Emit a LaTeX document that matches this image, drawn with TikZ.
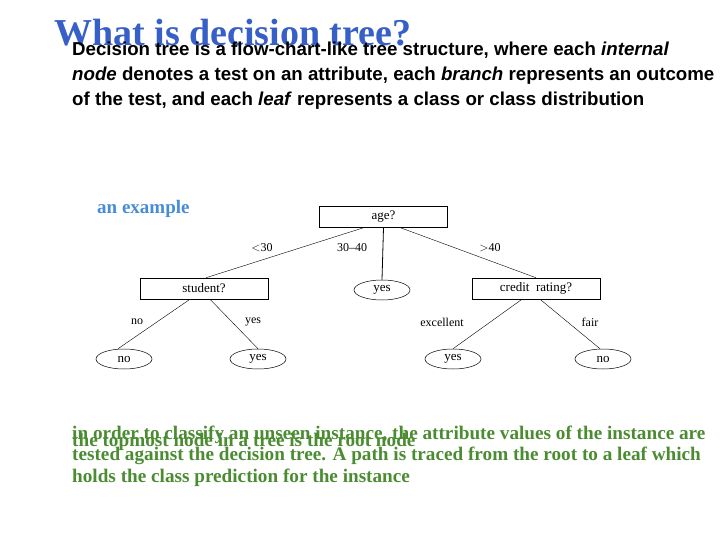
\documentclass[tikz,border=0pt]{standalone}
\usepackage{fontspec}
\usetikzlibrary{shapes.geometric}
\setmainfont{Liberation Serif}
\newfontfamily\arialf{Liberation Sans}
\definecolor{ttl}{RGB}{55,95,200}
\definecolor{exb}{RGB}{70,140,215}
\definecolor{grn}{RGB}{75,140,50}
\begin{document}
\begin{tikzpicture}[x=1pt,y=-1pt,
  bx/.style={draw,line width=0.5pt,minimum width=128pt,minimum height=21pt,inner sep=0pt,font=\fontsize{13}{14}\selectfont},
  el/.style={draw,ellipse,line width=0.5pt,minimum width=56pt,minimum height=20pt,inner sep=0pt,font=\fontsize{13}{14}\selectfont},
  lb/.style={font=\fontsize{12}{13}\selectfont,inner sep=0pt},
  ed/.style={line width=0.4pt},
  gt/.style={anchor=base west,inner sep=0pt,text=grn,font=\fontsize{19.2}{21.5}\selectfont\bfseries}]
\useasboundingbox (0,0) rectangle (720,540);
\node[anchor=base west,inner sep=0pt,text=ttl,font=\fontsize{38}{42}\selectfont\bfseries] (title) at (54,46) {What is decision tree?};
\node[anchor=base west,inner sep=0pt,align=left,font=\arialf\fontsize{18.7}{25}\selectfont\bfseries] (para) at (72,106) {Decision tree is a flow-chart-like tree structure, where each \textit{internal}\\\textit{node} denotes a test on an attribute, each \textit{branch} represents an outcome\\of the test, and each \textit{leaf} represents a class or class distribution};
\node[anchor=base west,inner sep=0pt,text=exb,font=\fontsize{19}{20}\selectfont\bfseries] (ex) at (97,214) {an example};
\node[bx] (age) at (383.5,217) {age?};
\node[bx] (stu) at (204,288.5) {student?};
\node[el] (y1) at (382,290) {yes};
\node[bx] (cr) at (536,288.5) {credit\ \ rating?};
\node[el] (n1) at (124,359) {no};
\node[el] (y2) at (258,359) {yes};
\node[el] (y3) at (453,359) {yes};
\node[el] (n2) at (603,359) {no};
\draw[ed] ([xshift=-20pt]age.south) -- ([xshift=2pt]stu.north);
\draw[line width=0.8pt] (age.south) -- (y1.north);
\draw[ed] ([xshift=17pt]age.south) -- (cr.north);
\draw[ed] ([xshift=-14pt]stu.south) -- ([xshift=-6pt]n1.north);
\draw[ed] ([xshift=6pt]stu.south) -- (y2.north);
\draw[ed] ([xshift=-14pt]cr.south) -- (y3.north);
\draw[ed] ([xshift=4pt]cr.south) -- ([xshift=-3pt]n2.north);
\node[lb] (l1) at (262,248) {$<$30};
\node[lb] (l2) at (352,248) {30--40};
\node[lb] (l3) at (490,248) {$>$40};
\node[lb] (l4) at (137,322) {no};
\node[lb] (l5) at (253,322) {yes};
\node[lb] (l6) at (442,322) {excellent};
\node[lb] (l7) at (590,322) {fair};
\node[gt] (g1) at (72,446) {the topmost node in a tree is the root node};
\node[gt,align=left] (g2) at (72,482) {in order to classify an unseen instance, the attribute values of the instance are\\tested against the decision tree. A path is traced from the root to a leaf which\\holds the class prediction for the instance};
\end{tikzpicture}
\end{document}
